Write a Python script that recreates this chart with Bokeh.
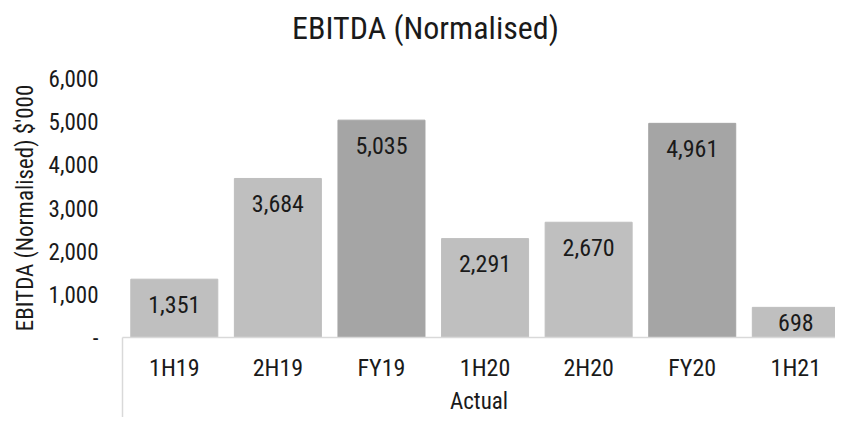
from bokeh.plotting import figure
from bokeh.layouts import column
from bokeh.models import FixedTicker, ColumnDataSource, Range1d
from bokeh.core.properties import value
from bokeh.embed import file_html
from bokeh.resources import INLINE

categories = ["1H19", "2H19", "FY19", "1H20", "2H20", "FY20", "1H21"]
ebitda = [1351, 3684, 5035, 2291, 2670, 4961, 698]
y_ticks = [0, 1000, 2000, 3000, 4000, 5000, 6000]
group_label = "Actual"
title_text = "EBITDA (Normalised)"
y_label = "EBITDA (Normalised) $'000"

FONT = "Roboto Condensed"
LIGHT = "#BFBFBF"
DARK = "#A5A5A5"
TXT = "#1a1a1a"
AXIS = "#D9D9D9"
W = 835
LEFT = 122

# ---- title strip -------------------------------------------------------
th = 64
tp = figure(width=W, height=th, output_backend="svg", toolbar_location=None,
            x_range=Range1d(LEFT, W), y_range=Range1d(0, th), min_border=0,
            min_border_left=LEFT, x_axis_location=None, y_axis_location=None)
tp.outline_line_color = None
tp.grid.grid_line_color = None
tp.text(x=[425], y=[th - 27], text=[title_text], text_align="center",
        text_baseline="middle", text_font=value(FONT), text_font_size="32px",
        text_color=TXT)

# ---- main chart -------------------------------------------------------
xs = list(range(len(categories)))
colors = [DARK if c.startswith("FY") else LIGHT for c in categories]
labels = [f"{v:,}" for v in ebitda]
label_y = [v if v >= 1000 else v / 2 for v in ebitda]
label_off = [25 if v >= 1000 else 0 for v in ebitda]

src = ColumnDataSource(dict(x=xs, top=ebitda, color=colors, label=labels,
                            ly=label_y, off=label_off))

p = figure(width=W, height=417 - th, output_backend="svg", toolbar_location=None,
           x_range=Range1d(-0.5, 6.383), y_range=Range1d(0, 6000),
           min_border_left=LEFT, min_border_right=0, min_border_top=78 - th,
           min_border_bottom=79)
p.outline_line_color = None
p.grid.grid_line_color = None
p.background_fill_color = "white"
p.border_fill_color = "white"

p.vbar(x="x", top="top", width=0.84, color="color", source=src)
p.text(x="x", y="ly", text="label", y_offset="off", source=src,
       text_align="center", text_baseline="middle",
       text_font=value(FONT), text_font_size="24px", text_color=TXT)

# y axis
ya = p.yaxis[0]
ya.ticker = FixedTicker(ticks=y_ticks)
ya.major_label_overrides = {t: (f"{t:,}" if t else "-") for t in y_ticks}
ya.axis_line_color = None
ya.major_tick_line_color = None
ya.minor_tick_line_color = None
ya.major_tick_out = 0
ya.major_tick_in = 0
ya.major_label_standoff = 24
ya.major_label_text_font = FONT
ya.major_label_text_font_size = "23px"
ya.major_label_text_color = TXT
ya.axis_label = y_label
ya.axis_label_text_font = FONT
ya.axis_label_text_font_size = "23px"
ya.axis_label_text_font_style = "normal"
ya.axis_label_text_color = TXT
ya.axis_label_standoff = 7

# x axis
xa = p.xaxis[0]
xa.ticker = FixedTicker(ticks=xs, minor_ticks=[-0.499])
xa.major_label_overrides = {i: c for i, c in enumerate(categories)}
xa.axis_line_color = AXIS
xa.axis_line_width = 1.5
xa.major_tick_line_color = None
xa.major_tick_out = 0
xa.major_tick_in = 0
xa.minor_tick_line_color = AXIS
xa.minor_tick_in = -90
xa.minor_tick_out = 0
xa.minor_tick_line_width = 1.5
xa.major_label_standoff = 16
xa.major_label_text_font = FONT
xa.major_label_text_font_size = "24px"
xa.major_label_text_color = TXT
xa.axis_label = group_label
xa.axis_label_text_font = FONT
xa.axis_label_text_font_size = "23px"
xa.axis_label_text_font_style = "normal"
xa.axis_label_text_color = TXT
xa.axis_label_standoff = 3

layout = column(tp, p, spacing=0)
open("out.html", "w").write(file_html(layout, INLINE))
